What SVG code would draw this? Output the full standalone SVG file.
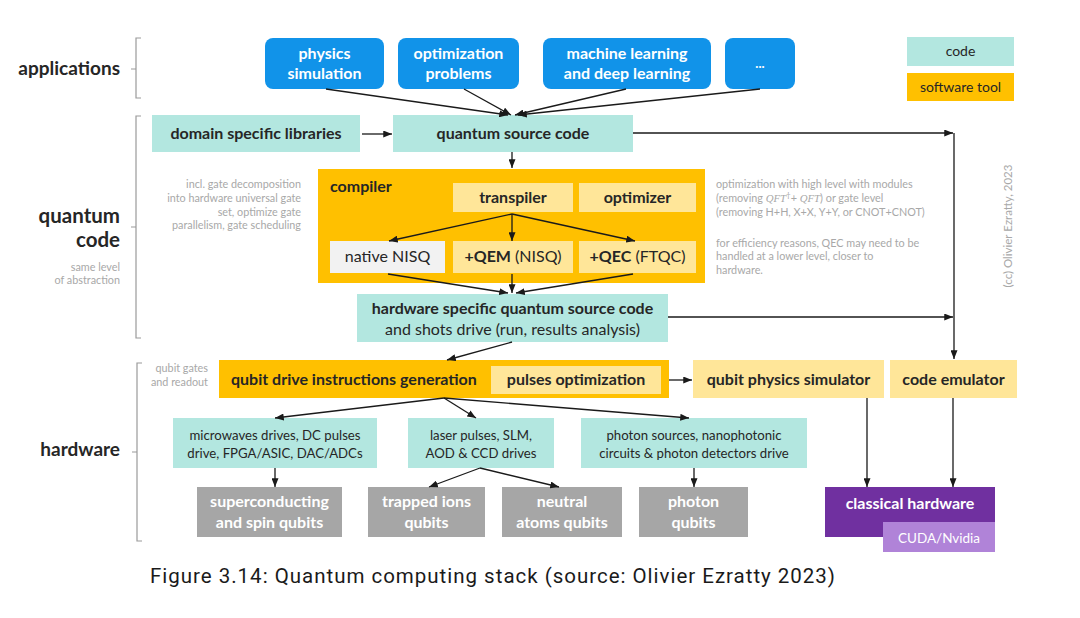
<svg xmlns="http://www.w3.org/2000/svg" width="1080" height="618" viewBox="0 0 1080 618">
<defs>
<marker id="ah" viewBox="0 0 10 8" refX="10" refY="4" markerWidth="9" markerHeight="7" markerUnits="userSpaceOnUse" orient="auto"><path d="M0,0 L10,4 L0,8 z" fill="#1a1a1a"/></marker>
<style>
text{font-family:Lato,"Open Sans","Liberation Sans",sans-serif;}
.b{font-weight:700;}
.m{text-anchor:middle;}
.e{text-anchor:end;}
.dk{fill:#262626;}
.w{fill:#ffffff;}
.g{fill:#a8a8a8;}
.f15{font-size:16px;}
.f13{font-size:13.2px;}
.f10{font-size:10.8px;}
.blue{fill:#1193e9;}
.teal{fill:#b3e7e0;}
.org{fill:#ffc000;}
.ly{fill:#ffe699;}
.gr{fill:#a6a6a6;}
.conn path{fill:none;stroke:#1a1a1a;stroke-width:1.3;}
.br path{fill:none;stroke:#9a9a9a;stroke-width:1.2;}
.it{font-family:"Liberation Serif",serif;font-style:italic;}
.cap{font-family:Roboto,"Liberation Sans",sans-serif;}
</style>
</defs>
<rect width="1080" height="618" fill="#ffffff"/>

<g class="br">
<path d="M141,38 L136,38 L136,98 L141,98 M136,69 L131,69"/>
<path d="M141,116 L136,116 L136,338 L141,338 M136,227 L131,227"/>
<path d="M142,363 L137,363 L137,541 L142,541 M137,452 L132,452"/>
</g>

<g id="layer-labels">
<text x="120" y="75" class="b e dk" font-size="19">applications</text>
<text x="120" y="223" class="b e dk" font-size="20.5">quantum</text>
<text x="120" y="247" class="b e dk" font-size="20.5">code</text>
<text x="120" y="271" class="e g f10">same level</text>
<text x="120" y="284" class="e g f10">of abstraction</text>
<text x="120" y="456" class="b e dk" font-size="19">hardware</text>
<text x="208" y="372" class="e g f10">qubit gates</text>
<text x="208" y="386" class="e g f10">and readout</text>
</g>

<g id="note-left">
<text x="301" y="188" class="e g f10">incl. gate decomposition</text>
<text x="301" y="202" class="e g f10">into hardware universal gate</text>
<text x="301" y="216" class="e g f10">set, optimize gate</text>
<text x="301" y="229" class="e g f10">parallelism, gate scheduling</text>
</g>

<g id="note-right">
<text x="716" y="188" class="g f10">optimization with high level with modules</text>
<text x="716" y="202" class="g f10">(removing <tspan class="it">QFT</tspan><tspan dy="-4" font-size="8">†</tspan><tspan dy="4">+ </tspan><tspan class="it">QFT</tspan>) or gate level</text>
<text x="716" y="216" class="g f10">(removing H+H, X+X, Y+Y, or CNOT+CNOT)</text>
<text x="716" y="247" class="g f10">for efficiency reasons, QEC may need to be</text>
<text x="716" y="260" class="g f10">handled at a lower level, closer to</text>
<text x="716" y="274" class="g f10">hardware.</text>
</g>

<g id="credit">
<text transform="translate(1012,226) rotate(-90)" class="m g" font-size="11.5">(cc) Olivier Ezratty, 2023</text>
</g>

<g id="legend-code"><rect x="907" y="37" width="107" height="29" class="teal"/><text x="960.5" y="56" class="m dk" font-size="14">code</text></g>
<g id="legend-tool"><rect x="907" y="73" width="107" height="28" class="org"/><text x="960.5" y="92" class="m dk" font-size="14">software tool</text></g>

<g id="app-physics"><rect x="265" y="38" width="119" height="51" rx="8" class="blue"/><text x="324.5" y="59" class="b m w f15">physics</text><text x="324.5" y="79" class="b m w f15">simulation</text></g>
<g id="app-optim"><rect x="398" y="38" width="121" height="51" rx="8" class="blue"/><text x="458.5" y="59" class="b m w f15">optimization</text><text x="458.5" y="79" class="b m w f15">problems</text></g>
<g id="app-ml"><rect x="543" y="38" width="168" height="51" rx="8" class="blue"/><text x="627" y="59" class="b m w f15">machine learning</text><text x="627" y="79" class="b m w f15">and deep learning</text></g>
<g id="app-more"><rect x="725" y="38" width="70" height="51" rx="8" class="blue"/><text x="760" y="68" class="b m w" font-size="13">...</text></g>

<g id="domain-libs"><rect x="152" y="115" width="208" height="37" class="teal"/><text x="256" y="139" class="b m dk f15">domain specific libraries</text></g>
<g id="quantum-source"><rect x="393" y="115" width="240" height="37" class="teal"/><text x="513" y="139" class="b m dk f15">quantum source code</text></g>

<g id="compiler"><rect x="318" y="169" width="387" height="114" class="org"/><text x="330" y="192" class="b dk f15">compiler</text></g>
<g id="transpiler"><rect x="453" y="183" width="120" height="29" class="ly"/><text x="513" y="203" class="b m dk f15">transpiler</text></g>
<g id="optimizer"><rect x="579" y="183" width="117" height="29" class="ly"/><text x="637.5" y="203" class="b m dk f15">optimizer</text></g>
<g id="native-nisq"><rect x="330" y="241" width="115" height="32" fill="#f2f2f2"/><text x="387.5" y="262" class="m dk f15">native NISQ</text></g>
<g id="qem"><rect x="453" y="241" width="120" height="32" class="ly"/><text x="513" y="262" class="m dk f15"><tspan class="b">+QEM</tspan> (NISQ)</text></g>
<g id="qec"><rect x="579" y="241" width="117" height="32" class="ly"/><text x="637.5" y="262" class="m dk f15"><tspan class="b">+QEC</tspan> (FTQC)</text></g>

<g id="hw-source"><rect x="357" y="294" width="311" height="48" class="teal"/><text x="512.5" y="314" class="b m dk f15">hardware specific quantum source code</text><text x="512.5" y="335" class="m dk f15">and shots drive (run, results analysis)</text></g>

<g id="qubit-drive"><rect x="219" y="360" width="450" height="38" class="org"/><text x="231" y="385" class="b dk f15">qubit drive instructions generation</text></g>
<g id="pulses-opt"><rect x="491" y="366" width="170" height="28" class="ly"/><text x="576" y="385" class="b m dk f15">pulses optimization</text></g>
<g id="physics-sim"><rect x="693" y="360" width="191" height="38" class="ly"/><text x="788.5" y="385" class="b m dk f15">qubit physics simulator</text></g>
<g id="code-emulator"><rect x="890" y="360" width="127" height="38" class="ly"/><text x="953.5" y="385" class="b m dk f15">code emulator</text></g>

<g id="microwaves"><rect x="173" y="418" width="204" height="50" class="teal"/><text x="275" y="440" class="m dk f13">microwaves drives, DC pulses</text><text x="275" y="458" class="m dk f13">drive, FPGA/ASIC, DAC/ADCs</text></g>
<g id="laser"><rect x="408" y="418" width="146" height="50" class="teal"/><text x="481" y="440" class="m dk f13">laser pulses, SLM,</text><text x="481" y="458" class="m dk f13">AOD &amp; CCD drives</text></g>
<g id="photon-sources"><rect x="581" y="418" width="226" height="50" class="teal"/><text x="694" y="440" class="m dk f13">photon sources, nanophotonic</text><text x="694" y="458" class="m dk f13">circuits &amp; photon detectors drive</text></g>

<g id="superconducting"><rect x="197" y="487" width="145" height="50" class="gr"/><text x="269.5" y="507" class="b m w f15">superconducting</text><text x="269.5" y="528" class="b m w f15">and spin qubits</text></g>
<g id="trapped-ions"><rect x="368" y="487" width="117" height="50" class="gr"/><text x="426.5" y="507" class="b m w f15">trapped ions</text><text x="426.5" y="528" class="b m w f15">qubits</text></g>
<g id="neutral-atoms"><rect x="502" y="487" width="120" height="50" class="gr"/><text x="562" y="507" class="b m w f15">neutral</text><text x="562" y="528" class="b m w f15">atoms qubits</text></g>
<g id="photon-qubits"><rect x="639" y="487" width="109" height="50" class="gr"/><text x="693.5" y="507" class="b m w f15">photon</text><text x="693.5" y="528" class="b m w f15">qubits</text></g>

<g id="classical-hw"><rect x="825" y="487" width="170" height="50" fill="#7030a0"/><text x="910" y="509" class="b m w f15">classical hardware</text></g>
<g id="cuda"><rect x="883" y="522" width="112" height="30" fill="#b083d8"/><text x="939" y="543" class="m w" font-size="13.5">CUDA/Nvidia</text></g>

<g class="conn" id="connectors">
<path d="M326,89 L508,115" marker-end="url(#ah)"/>
<path d="M464,89 L511,115" marker-end="url(#ah)"/>
<path d="M626,89 L515,115" marker-end="url(#ah)"/>
<path d="M760,89 L518,115" marker-end="url(#ah)"/>
<path d="M362,134 L392,134" marker-end="url(#ah)"/>
<path d="M512,152 L512,168" marker-end="url(#ah)"/>
<path d="M633,133 L953,133" marker-end="url(#ah)"/>
<path d="M954,133 L954,359" marker-end="url(#ah)"/>
<path d="M512,214 L389,241" marker-end="url(#ah)"/>
<path d="M512,214 L512,241" marker-end="url(#ah)"/>
<path d="M512,214 L635,241" marker-end="url(#ah)"/>
<path d="M388,274 L508,293" marker-end="url(#ah)"/>
<path d="M512,274 L512,293" marker-end="url(#ah)"/>
<path d="M633,274 L516,293" marker-end="url(#ah)"/>
<path d="M668,317 L953,317" marker-end="url(#ah)"/>
<path d="M512,342 L447,360" marker-end="url(#ah)"/>
<path d="M669,380 L692,380" marker-end="url(#ah)"/>
<path d="M444,398 L275,418" marker-end="url(#ah)"/>
<path d="M444,398 L476,418" marker-end="url(#ah)"/>
<path d="M444,398 L689,418" marker-end="url(#ah)"/>
<path d="M275,468 L275,487" marker-end="url(#ah)"/>
<path d="M480,468 L429,487" marker-end="url(#ah)"/>
<path d="M480,468 L559,487" marker-end="url(#ah)"/>
<path d="M694,468 L694,487" marker-end="url(#ah)"/>
<path d="M867,398 L867,487" marker-end="url(#ah)"/>
<path d="M953,398 L953,487" marker-end="url(#ah)"/>
</g>

<g id="caption">
<text x="150" y="583" class="cap" font-size="20.5" fill="#1a1a1a" textLength="685" lengthAdjust="spacing">Figure 3.14: Quantum computing stack (source: Olivier Ezratty 2023)</text>
</g>
</svg>
